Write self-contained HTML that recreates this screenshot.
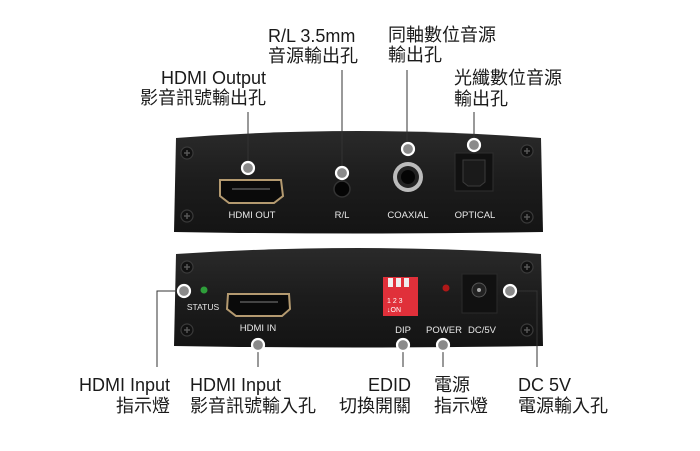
<!DOCTYPE html>
<html><head><meta charset="utf-8"><style>
html,body{margin:0;padding:0;background:#fff;}
svg{display:block}
text{font-family:"Liberation Sans","Noto Sans CJK TC",sans-serif;fill:#1a1a1a}
.l{font-size:18px}
.s{font-size:9.5px;fill:#e8e8e8}
</style></head><body>
<svg width="700" height="451" viewBox="0 0 700 451" xmlns="http://www.w3.org/2000/svg">
<defs>
<linearGradient id="pg" x1="0" y1="0" x2="0" y2="1"><stop offset="0" stop-color="#2a2a2a"/><stop offset="0.5" stop-color="#1c1c1c"/><stop offset="1" stop-color="#141414"/></linearGradient>
<g id="screw"><circle r="6" fill="#111" stroke="#3a3a3a" stroke-width="1.2"/><path d="M-3 0H3M0 -3V3" stroke="#555" stroke-width="1.5"/></g>
<g id="dot"><circle r="6" fill="#8a8a8a" stroke="#fff" stroke-width="2.2"/></g>
</defs>
<!-- panels -->
<path d="M176 138 Q358 124 541 138 L543 232 Q358 235 174 232 Z" fill="url(#pg)"/>
<path d="M176 254 Q358 242 541 254 L543 346 Q358 349 174 346 Z" fill="url(#pg)"/>
<use href="#screw" x="187" y="153"/><use href="#screw" x="527" y="151"/>
<use href="#screw" x="187" y="216"/><use href="#screw" x="527" y="217"/>
<use href="#screw" x="187" y="267"/><use href="#screw" x="527" y="267"/>
<use href="#screw" x="187" y="330"/><use href="#screw" x="527" y="330"/>
<!-- top panel ports -->
<path d="M220 180 H281 L283 196 L274 203 H229 L220 196 Z" fill="#0a0a0a" stroke="#b49a70" stroke-width="2"/>
<rect x="232" y="188" width="38" height="2" fill="#444"/>
<circle cx="342" cy="189" r="8" fill="#050505" stroke="#333" stroke-width="1.5"/>
<circle cx="408" cy="177" r="15" fill="#bbb"/><circle cx="408" cy="177" r="11" fill="#222"/><circle cx="408" cy="177" r="7" fill="#050505"/>
<rect x="455" y="153" width="38" height="38" fill="#111" stroke="#2e2e2e"/><path d="M463 160 H485 V182 L480 186 H468 L463 182 Z" fill="#1a1a1a" stroke="#3a3a3a"/>
<text class="s" x="252" y="218" text-anchor="middle">HDMI OUT</text>
<text class="s" x="342" y="218" text-anchor="middle">R/L</text>
<text class="s" x="408" y="218" text-anchor="middle">COAXIAL</text>
<text class="s" x="475" y="218" text-anchor="middle">OPTICAL</text>
<!-- bottom panel -->
<circle cx="204" cy="290" r="3.5" fill="#2e9e3a"/>
<text class="s" x="203" y="310" text-anchor="middle" style="font-size:8.5px">STATUS</text>
<path d="M228 294 H289 L290 309 L282 316 H236 L227 309 Z" fill="#0a0a0a" stroke="#b49a70" stroke-width="2"/>
<rect x="240" y="301" width="38" height="2" fill="#444"/>
<text class="s" x="258" y="331" text-anchor="middle">HDMI IN</text>
<rect x="383" y="277" width="35" height="39" fill="#e0303a"/>
<rect x="388" y="278" width="5" height="9" fill="#eee"/><rect x="396" y="278" width="5" height="9" fill="#eee"/><rect x="404" y="278" width="5" height="9" fill="#eee"/>
<text x="387" y="303" style="font-size:7px;fill:#fff">1 2 3</text><text x="387" y="312" style="font-size:7px;fill:#fff">↓ON</text>
<circle cx="446" cy="288" r="3.5" fill="#b01818"/>
<rect x="462" y="274" width="35" height="39" fill="#111" stroke="#2a2a2a"/><circle cx="479" cy="290" r="7" fill="#222" stroke="#555"/><circle cx="479" cy="290" r="2" fill="#aaa"/>
<text class="s" x="403" y="333" text-anchor="middle">DIP</text>
<text class="s" x="444" y="333" text-anchor="middle">POWER</text>
<text class="s" x="482" y="333" text-anchor="middle">DC/5V</text>
<!-- connectors -->
<g stroke="#333" stroke-width="1" fill="none">
<path d="M248 112 V168"/><path d="M342 70 V173"/><path d="M407 70 V149"/><path d="M474 112 V145"/>
<path d="M184 291 H157 V367"/><path d="M258 345 V367"/><path d="M403 345 V367"/><path d="M443 345 V367"/><path d="M510 291 H537 V367"/>
</g>
<use href="#dot" x="248" y="168"/><use href="#dot" x="342" y="173"/><use href="#dot" x="408" y="149"/><use href="#dot" x="474" y="145"/>
<use href="#dot" x="184" y="291"/><use href="#dot" x="258" y="345"/><use href="#dot" x="403" y="345"/><use href="#dot" x="443" y="345"/><use href="#dot" x="510" y="291"/>
<!-- labels -->
<text class="l" x="268" y="42">R/L 3.5mm</text>
<text class="l" x="268" y="62">音源輸出孔</text>
<text class="l" x="388" y="41">同軸數位音源</text>
<text class="l" x="388" y="61">輸出孔</text>
<text class="l" x="266" y="84" text-anchor="end">HDMI Output</text>
<text class="l" x="266" y="104" text-anchor="end">影音訊號輸出孔</text>
<text class="l" x="454" y="84">光纖數位音源</text>
<text class="l" x="454" y="105">輸出孔</text>
<text class="l" x="170" y="391" text-anchor="end">HDMI Input</text>
<text class="l" x="170" y="412" text-anchor="end">指示燈</text>
<text class="l" x="190" y="391">HDMI Input</text>
<text class="l" x="190" y="412">影音訊號輸入孔</text>
<text class="l" x="411" y="391" text-anchor="end">EDID</text>
<text class="l" x="411" y="412" text-anchor="end">切換開關</text>
<text class="l" x="434" y="391">電源</text>
<text class="l" x="434" y="412">指示燈</text>
<text class="l" x="518" y="391">DC 5V</text>
<text class="l" x="518" y="412">電源輸入孔</text>
</svg>
</body></html>
